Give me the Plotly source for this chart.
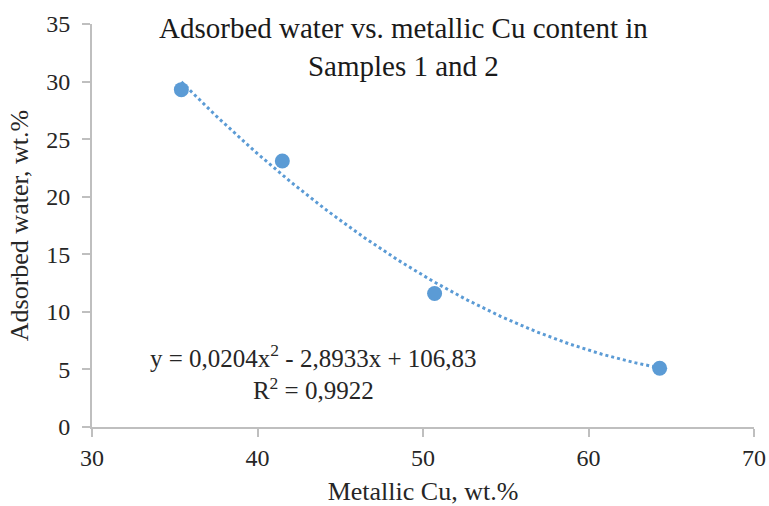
import numpy as np
import plotly.graph_objects as go

# Measured samples
metallic_cu = [35.4, 41.5, 50.7, 64.3]
adsorbed_water = [29.3, 23.1, 11.6, 5.1]

# Polynomial trendline coefficients (as reported in the equation label)
poly_a, poly_b, poly_c = 0.0204, -2.8933, 106.83
r_squared_text = "0,9922"

x_ticks = [30, 40, 50, 60, 70]
y_ticks = [0, 5, 10, 15, 20, 25, 30, 35]

blue = "#5b9bd5"
axis_gray = "#bfbfbf"
text_color = "#262626"
serif = "Liberation Serif"

xt = np.linspace(min(metallic_cu), max(metallic_cu), 200)
yt = poly_a * xt**2 + poly_b * xt + poly_c

fig = go.Figure()
fig.add_trace(go.Scatter(
    x=xt, y=yt, mode="lines",
    line=dict(color=blue, width=3, dash="dot"),
    hoverinfo="skip", showlegend=False,
))
fig.add_trace(go.Scatter(
    x=metallic_cu, y=adsorbed_water, mode="markers",
    marker=dict(color=blue, size=15),
    showlegend=False,
))

fig.update_layout(
    width=769, height=506,
    margin=dict(l=92, r=15, t=24, b=79),
    paper_bgcolor="white", plot_bgcolor="white",
    font=dict(family=serif, size=22, color=text_color),
)
fig.update_xaxes(
    range=[30, 70], tickvals=x_ticks, showgrid=False, zeroline=False,
    showline=True, linecolor=axis_gray, linewidth=2, automargin=False,
    ticks="outside", ticklen=8, tickcolor=axis_gray, tickwidth=2,
    ticklabelstandoff=0,
    tickfont=dict(family=serif, size=24, color=text_color),
    title=dict(text="Metallic Cu, wt.%", font=dict(family=serif, size=26, color=text_color), standoff=20),
)
fig.update_yaxes(
    range=[0, 35], tickvals=y_ticks, showgrid=False, zeroline=False,
    showline=True, linecolor=axis_gray, linewidth=2, automargin=False,
    ticks="outside", ticklen=8, tickcolor=axis_gray, tickwidth=2,
    ticklabelstandoff=7,
    tickfont=dict(family=serif, size=24, color=text_color),
    title=dict(text="Adsorbed water, wt.%", font=dict(family=serif, size=26, color=text_color), standoff=10),
)

fig.add_annotation(
    text="Adsorbed water vs. metallic Cu content in<br>Samples 1 and 2",
    xref="paper", yref="paper", x=0.471, y=1.035, yanchor="top",
    showarrow=False, font=dict(family=serif, size=29, color="#1a1a1a"),
)
fig.add_annotation(
    text=("y = 0,0204x<sup>2</sup> - 2,8933x + 106,83<br>R<sup>2</sup> = " + r_squared_text),
    xref="x", yref="y", x=43.4, y=4.8, yanchor="middle",
    showarrow=False, font=dict(family=serif, size=25, color=text_color),
)

fig.write_html("out.html")
